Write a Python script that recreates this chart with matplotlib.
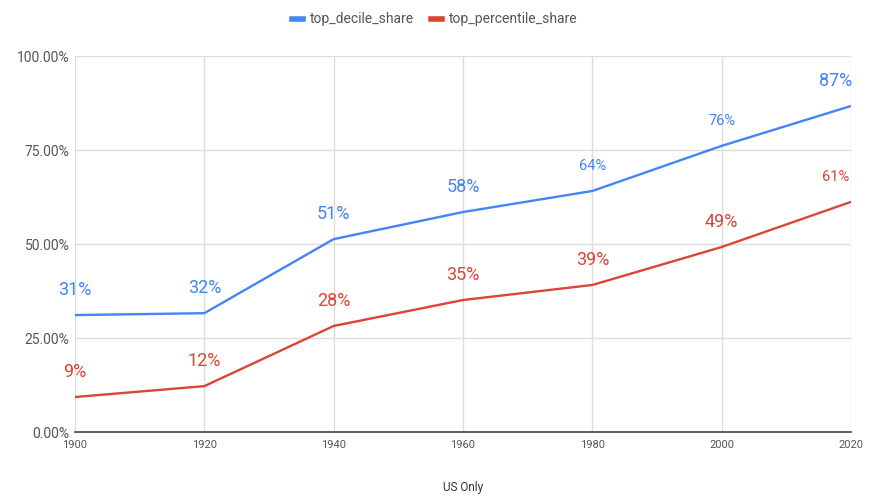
import matplotlib.pyplot as plt
from matplotlib.ticker import FuncFormatter

years = [1900, 1920, 1940, 1960, 1980, 2000, 2020]
top_decile_share = [0.311, 0.316, 0.513, 0.585, 0.641, 0.761, 0.867]
top_percentile_share = [0.093, 0.122, 0.282, 0.351, 0.391, 0.492, 0.612]
decile_label_sizes = [13, 13, 13, 13, 10.5, 10.5, 13]
percentile_label_sizes = [13, 13, 13, 13, 13, 13, 10.5]

BLUE = "#4285F4"
RED = "#DB4437"

plt.rcParams["font.family"] = ["Roboto", "DejaVu Sans"]

fig = plt.figure(figsize=(8.69, 4.96), dpi=100)
ax = fig.add_axes([75 / 869, 1 - 432 / 496, 776 / 869, 376 / 496])

ax.plot(years, top_decile_share, color=BLUE, lw=1.7, label="top_decile_share", zorder=3)
ax.plot(years, top_percentile_share, color=RED, lw=1.7, label="top_percentile_share", zorder=3)

for series, sizes, color in [
    (top_decile_share, decile_label_sizes, BLUE),
    (top_percentile_share, percentile_label_sizes, RED),
]:
    for x, y, size in zip(years, series, sizes):
        dx = -11 if x == years[-1] else 0
        ax.annotate(f"{round(y * 100):.0f}%", (x, y), xytext=(dx, 18),
                    textcoords="offset points", ha="center", va="center",
                    color=color, fontsize=size)

ax.set_xlim(1900, 2020)
ax.set_ylim(0, 1)
ax.set_xticks(years)
ax.set_yticks([0, 0.25, 0.5, 0.75, 1.0])
ax.yaxis.set_major_formatter(FuncFormatter(lambda v, _: f"{v * 100:.2f}%"))
ax.grid(True, color="#dddddd", lw=1)
ax.set_axisbelow(True)
for side in ["top", "right", "left"]:
    ax.spines[side].set_visible(False)
ax.spines["bottom"].set_color("#444444")
ax.spines["bottom"].set_linewidth(1.2)
ax.tick_params(length=0)
ax.tick_params(axis="y", labelsize=10, colors="#555555", pad=4)
ax.tick_params(axis="x", labelsize=8, colors="#555555", pad=6)
ax.set_xlabel("US Only", fontsize=8.5, color="#333333", labelpad=22)

leg = fig.legend(loc="upper center", bbox_to_anchor=(0.5, 1.0), ncol=2, frameon=False,
                 fontsize=10, handlelength=0.8, handletextpad=0.5, columnspacing=1.2)
for line in leg.get_lines():
    line.set_linewidth(4)
for text in leg.get_texts():
    text.set_color("#555555")

fig.savefig("out.png", dpi=100)
